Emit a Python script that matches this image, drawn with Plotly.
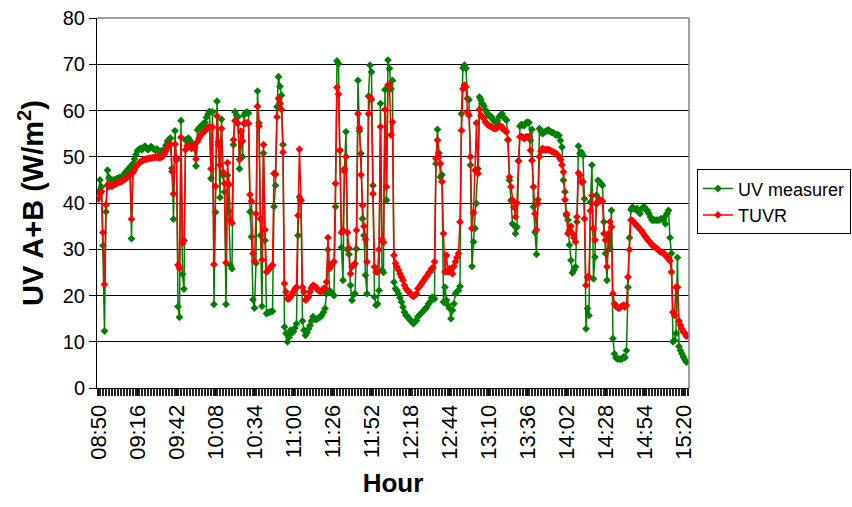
import plotly.graph_objects as go

# Tick labels on the time axis (one label every 26 minutes, first at 08:50)
tick_labels = ["08:50", "09:16", "09:42", "10:08", "10:34", "11:00", "11:26", "11:52",
               "12:18", "12:44", "13:10", "13:36", "14:02", "14:28", "14:54", "15:20"]
label_step = 26  # samples (minutes) between labels

# UV measurer (green), one value per minute from 08:50
uv_measurer = [
    42.5, 45, 43.5, 30.8, 12.3, 38.1, 47.1, 45.5, 45, 44.8,
    45, 45, 45.2, 45.4, 45.5, 45.4, 45.8, 46.2, 46.6, 47,
    47.4, 47.8, 32.3, 48.5, 49.5, 50.5, 51.3, 51.6, 51.8, 51.5,
    52, 52.3, 51.8, 51.5, 51.8, 52.2, 51.9, 51.6, 51.4, 51.7,
    51.2, 51.0, 51.3, 51.0, 51.6, 52.5, 53.3, 53.8, 54, 47.5,
    36.5, 55.6, 49.3, 17.6, 15.3, 57.8, 24.6, 21.4, 53.6, 53.8,
    54, 53.5, 52.9, 52.3, 51.8, 48, 55.8, 56.2, 56.5, 56.8,
    57.2, 57.4, 58.5, 59.2, 59.8, 45.3, 59.7, 18.1, 38, 62,
    53.2, 41.2, 58.1, 46, 42.4, 18.1, 46, 38.2, 26.5, 25.8,
    52.6, 59.7, 59, 58.6, 47.4, 55.5, 50, 59, 59.5, 59.7,
    59.4, 38.1, 32.7, 19.1, 17.3, 27, 64.2, 57.3, 33, 17.7,
    50.8, 31.9, 16.1, 16.3, 16.4, 16.5, 16.6, 39.2, 43.8, 60.8,
    67.3, 65.2, 63.3, 52.6, 13.2, 11.8, 10, 11, 12.5, 12,
    12.2, 13, 13.9, 33, 41.3, 40.6, 14.5, 12.5, 11.4, 12,
    12.8, 13.5, 14.5, 15.4, 15, 14.8, 15, 15.2, 15.4, 15.8,
    16.4, 17.2, 20.4, 29.9, 21.1, 20.6, 20.4, 20, 39.2, 70.7,
    70.1, 51.4, 30.4, 23.3, 47.4, 55.4, 29.9, 28.9, 22.2, 19,
    20.2, 20.4, 30.1, 66.5, 55.6, 50.7, 36.6, 33, 24.4, 20.4,
    63.1, 69.8, 68.3, 43.8, 19.7, 17.9, 18.2, 21.1, 61.5, 25.5,
    25, 64.5, 40.6, 70.9, 69.1, 64.7, 66.5, 22.9, 21.5, 21.1,
    20.4, 19.5, 18.6, 17.5, 16.4, 15.7, 15.5, 15, 14.6, 14.3,
    13.9, 14.3, 14.6, 15.4, 15.8, 16.1, 16.5, 16.8, 17.2, 17.5,
    18.2, 18.6, 19.5, 19.6, 19.3, 48.5, 55.9, 50.8, 45.6, 46.1,
    18.6, 21.8, 19, 17.9, 17.2, 15, 16.8, 18.2, 20.4, 20.8,
    21.1, 22, 59.3, 69.2, 69.8, 69.1, 62.6, 62.3, 48.2, 26.3,
    31.6, 34.5, 39.9, 47.4, 62.9, 62.3, 61.5, 61, 60.1, 59.5,
    59, 58.8, 58.6, 58, 57.7, 57.5, 57.7, 58.6, 59, 59.3,
    58.6, 58.2, 57.9, 53.6, 44.9, 40.6, 35.5, 35.2, 33.4, 34.8,
    49.1, 56.6, 57, 56.8, 56.8, 57.3, 57.5, 57.4, 53.6, 55.9,
    39.2, 33.7, 28.9, 40.7, 56.1, 55.5, 55, 55.3, 55.5, 55.6,
    55.8, 55.5, 55.3, 55.2, 55, 54.7, 54.8, 54.6, 53.5, 52.1,
    44.9, 42.4, 37.3, 36.3, 30.9, 27.6, 24.9, 25.5, 26.2, 35.9,
    52.3, 50.7, 51, 50.3, 40.9, 12.8, 17.2, 15.7, 40.2, 48.2,
    23.6, 28.3, 41.7, 44.9, 44.6, 44.2, 43.8, 35.9, 29.1, 23.3,
    32.7, 30.1, 38.4, 10.7, 7.4, 6.5, 6.3, 6.3, 6.2, 6.3,
    6.7, 6.6, 8.1, 21.8, 32.5, 38.6, 39.1, 38.8, 38.6, 38.8,
    38.2, 37.7, 38.8, 39, 39.1, 38.5, 38.4, 37.7, 37, 36.3,
    36.3, 36.3, 36.3, 36.3, 36.3, 36.6, 36.5, 36.8, 35.5, 37.7,
    38.4, 32.5, 29.1, 10, 10.3, 11.8, 28.2, 9, 8.1, 7.4,
    6.7, 6.1, 5.6,
]

# TUVR model (red), one value per minute from 08:50
tuvr = [
    40.9, 42, 42.5, 33.6, 22.4, 39.6, 43.9, 43.5, 43.8, 43.6,
    44, 44, 44.2, 44.4, 44.5, 44.6, 44.8, 45, 45.2, 45.5,
    45.8, 46.2, 36.5, 46.6, 47.2, 47.8, 48.3, 48.6, 48.9, 49.1,
    49.3, 49.4, 49.5, 49.6, 49.7, 49.7, 49.8, 49.8, 49.9, 49.9,
    49.8, 49.8, 49.9, 50.2, 50.6, 51.3, 52, 52.4, 52.7, 46.8,
    42, 52.7, 49.7, 26.6, 25.9, 54.2, 31.2, 31.9, 51.5, 52.3,
    52.5, 52.2, 51.8, 52.2, 52.5, 49.5, 53.3, 54, 54.6, 55,
    55.4, 55.6, 56, 56.3, 56.5, 47.4, 56.4, 26.7, 43.6, 58.8,
    52.6, 48.2, 56.1, 46.7, 44.2, 27.1, 48.7, 44, 36.3, 35.7,
    53.7, 57.8, 57.5, 57.2, 49.4, 55.5, 53.4, 57.2, 57.3, 57.4,
    57.2, 41.8, 40.4, 29.1, 27.4, 37.7, 60.9, 56.6, 36.6, 27.7,
    52.6, 34.2, 25.1, 25.4, 25.8, 26.2, 26.6, 46.4, 46.2, 58.6,
    62.6, 61.5, 60.2, 51, 22.6, 20.8, 19.3, 19.3, 19.7, 20.2,
    20.8, 21.4, 21.8, 37.3, 51.6, 40.6, 21.8, 20.8, 19, 19.3,
    19.7, 20.8, 21.6, 22.2, 22, 21.8, 21.3, 21, 20.8, 21,
    21.5, 21.5, 22.9, 32.5, 25.8, 26.3, 26.9, 27.3, 44.2, 65,
    63.5, 51.4, 33.6, 34.1, 46.9, 50, 33.6, 30.2, 24.7, 26.2,
    26.5, 26.9, 34.1, 59.3, 56.2, 46.1, 39.5, 35, 32.1, 27.3,
    59.3, 62.9, 62.4, 42, 26.2, 25.1, 25.1, 29.9, 56.5, 32.1,
    31.5, 60.2, 43.5, 65.5, 65.5, 54.7, 57.5, 28.7, 27, 26.2,
    25.5, 24.7, 24, 23.3, 22.2, 21.5, 21.1, 20.8, 20.3, 20,
    19.8, 20.1, 20.4, 21.5, 21.9, 22.4, 22.9, 23.3, 23.8, 24.2,
    24.8, 25.1, 25.8, 26, 27.3, 49.6, 53.6, 50, 48.5, 44.6,
    33.4, 25.1, 28.7, 25.1, 25.8, 25.5, 24.7, 26.3, 27.3, 28.2,
    29.1, 35.9, 55.7, 64.7, 65.5, 65.1, 59.7, 59, 50, 34.5,
    37.9, 47.1, 57.3, 46.4, 60.2, 59, 58.6, 58.3, 57.5, 57.1,
    56.8, 56.6, 56.5, 56.2, 56.1, 56.1, 56.3, 56.6, 56.5, 56.5,
    55.9, 55.6, 55.4, 53.7, 45.6, 43.5, 40.6, 39.1, 37, 40,
    49.1, 54.3, 54.4, 54.2, 53.9, 54.3, 54.3, 54.3, 51.4, 49.2,
    43.5, 37.7, 34.2, 39.9, 50, 51.2, 51.8, 51.6, 51.4, 51.6,
    51.5, 51.4, 51.2, 51.1, 50.9, 50.7, 50.4, 50, 49.4, 48.2,
    46.7, 40.7, 37.7, 33.4, 34.1, 35, 33.4, 32.5, 31.6, 37,
    46.5, 46, 44.6, 44.6, 36.6, 22.2, 24, 24, 38.3, 41.6,
    34.5, 32, 39.8, 40.4, 40.7, 40.6, 40.4, 33.4, 32, 26.2,
    33.4, 35.9, 34.8, 20.4, 18.2, 17.7, 17.4, 17.2, 17.5, 17.7,
    17.9, 17.5, 17.9, 24, 29.9, 36.3, 36.2, 35.8, 35.5, 35,
    34.8, 34.3, 34, 33.5, 33, 32.6, 32.1, 31.8, 31.4, 30.9,
    30.7, 30.5, 30.2, 29.9, 29.6, 29.4, 29.2, 29.1, 28.7, 28.3,
    28, 27.5, 25.1, 16.4, 15.7, 21.8, 21.8, 14.5, 13.6, 12.8,
    12.1, 11.8, 11.2,
]

FONT = "Arial, 'Liberation Sans', sans-serif"

fig = go.Figure()
fig.add_trace(go.Scatter(
    x=list(range(len(uv_measurer))), y=uv_measurer, name="UV measurer",
    mode="lines+markers",
    line=dict(color="#008000", width=1.5),
    marker=dict(symbol="diamond", size=6, color="#008000"),
))
fig.add_trace(go.Scatter(
    x=list(range(len(tuvr))), y=tuvr, name="TUVR",
    mode="lines+markers",
    line=dict(color="#FF0000", width=1.5),
    marker=dict(symbol="diamond", size=6, color="#FF0000"),
))

fig.update_layout(
    width=852, height=507,
    margin=dict(l=97, r=163, t=18, b=119, autoexpand=False),
    paper_bgcolor="white", plot_bgcolor="white",
    font=dict(family=FONT, color="black", size=19),
    showlegend=True,
    legend=dict(
        xref="container", yref="container",
        x=0.818, y=0.602, xanchor="left", yanchor="middle",
        bordercolor="black", borderwidth=1, bgcolor="white",
        font=dict(family=FONT, size=18, color="black"),
        itemwidth=30, tracegroupgap=0,
    ),
    xaxis=dict(
        automargin=False,
        range=[-1, 393.7],
        tickmode="array",
        tickvals=[i * label_step for i in range(len(tick_labels))],
        ticktext=tick_labels,
        tickangle=-90,
        tickfont=dict(family=FONT, size=22, color="black"),
        ticks="outside", ticklen=7, tickwidth=1, tickcolor="black",
        showline=True, linecolor="black", linewidth=1,
        showgrid=False, zeroline=False,
        minor=dict(ticks="outside", ticklen=7, tickwidth=1, tickcolor="#222222",
                   tickmode="linear", tick0=0.5, dtick=1, showgrid=False),
        title=dict(text="<b>Hour</b>", font=dict(family=FONT, size=26, color="black"),
                   standoff=14),
    ),
    yaxis=dict(
        automargin=False,
        range=[0, 80], dtick=10, tick0=0,
        tickfont=dict(family=FONT, size=20, color="black"),
        ticks="outside", ticklen=7, tickwidth=1, tickcolor="black",
        showline=True, linecolor="black", linewidth=1,
        showgrid=True, gridcolor="#000000", gridwidth=1,
        zeroline=False,
        title=dict(text="<b>UV A+B (W/m<sup>2</sup>)</b>",
                   font=dict(family=FONT, size=29, color="black"), standoff=10),
    ),
)

# gray plot-area border (top and right), like the spreadsheet frame
fig.add_shape(type="line", xref="paper", yref="paper", x0=0, x1=1, y0=1, y1=1,
              line=dict(color="#808080", width=1.5), layer="above")
fig.add_shape(type="line", xref="paper", yref="paper", x0=1, x1=1, y0=0, y1=1,
              line=dict(color="#808080", width=1.5), layer="above")

fig.write_html("out.html", config={"displayModeBar": False},
               post_script="document.body.style.margin='0';")
